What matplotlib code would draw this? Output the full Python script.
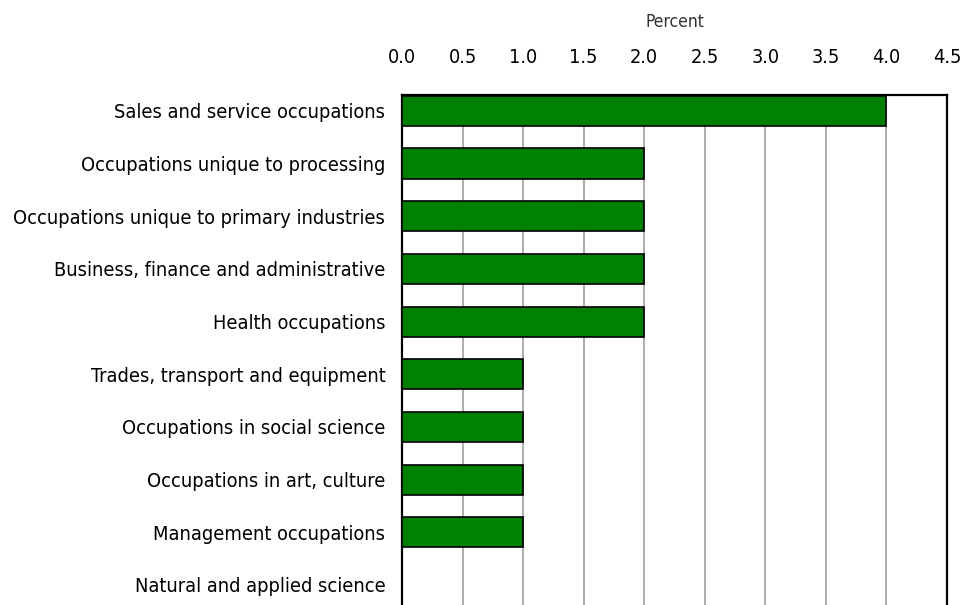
import matplotlib.pyplot as plt

categories = [
    "Sales and service occupations",
    "Occupations unique to processing",
    "Occupations unique to primary industries",
    "Business, finance and administrative",
    "Health occupations",
    "Trades, transport and equipment",
    "Occupations in social science",
    "Occupations in art, culture",
    "Management occupations",
    "Natural and applied science",
]
percent = [4.0, 2.0, 2.0, 2.0, 2.0, 1.0, 1.0, 1.0, 1.0, 0.0]
xticks = [0.0, 0.5, 1.0, 1.5, 2.0, 2.5, 3.0, 3.5, 4.0, 4.5]

plt.rcParams['font.family'] = ['DejaVu Sans']
plt.rcParams['font.stretch'] = 'condensed'

fig = plt.figure(figsize=(9.76, 6.05), dpi=100)
ax = fig.add_axes([402 / 976, 0.0, 545 / 976, 1 - 95 / 605])

pos = list(range(len(categories)))
ax.barh(pos, percent, height=0.57, color='#008000', edgecolor='black', linewidth=1.2, zorder=3)

ax.set_xlim(0, 4.5)
ax.set_ylim(len(categories) - 1 + 0.38, -0.3)
ax.set_yticks(pos)
ax.set_yticklabels(categories, fontsize=14.3)
ax.set_xticks(xticks)
ax.set_xticklabels([f"{t:.1f}" for t in xticks], fontsize=14.3)
ax.xaxis.tick_top()
ax.xaxis.set_label_position('top')
ax.set_xlabel("Percent", fontsize=12.5, labelpad=15, color='#333333')
ax.tick_params(axis='y', length=0, pad=12)
ax.tick_params(axis='x', length=0, pad=20)
ax.grid(axis='x', color='#a0a0a0', linewidth=1.2, zorder=0)
for side in ['left', 'right', 'top']:
    ax.spines[side].set_linewidth(1.6)
ax.spines['bottom'].set_visible(False)

fig.savefig('out.png', dpi=100)
